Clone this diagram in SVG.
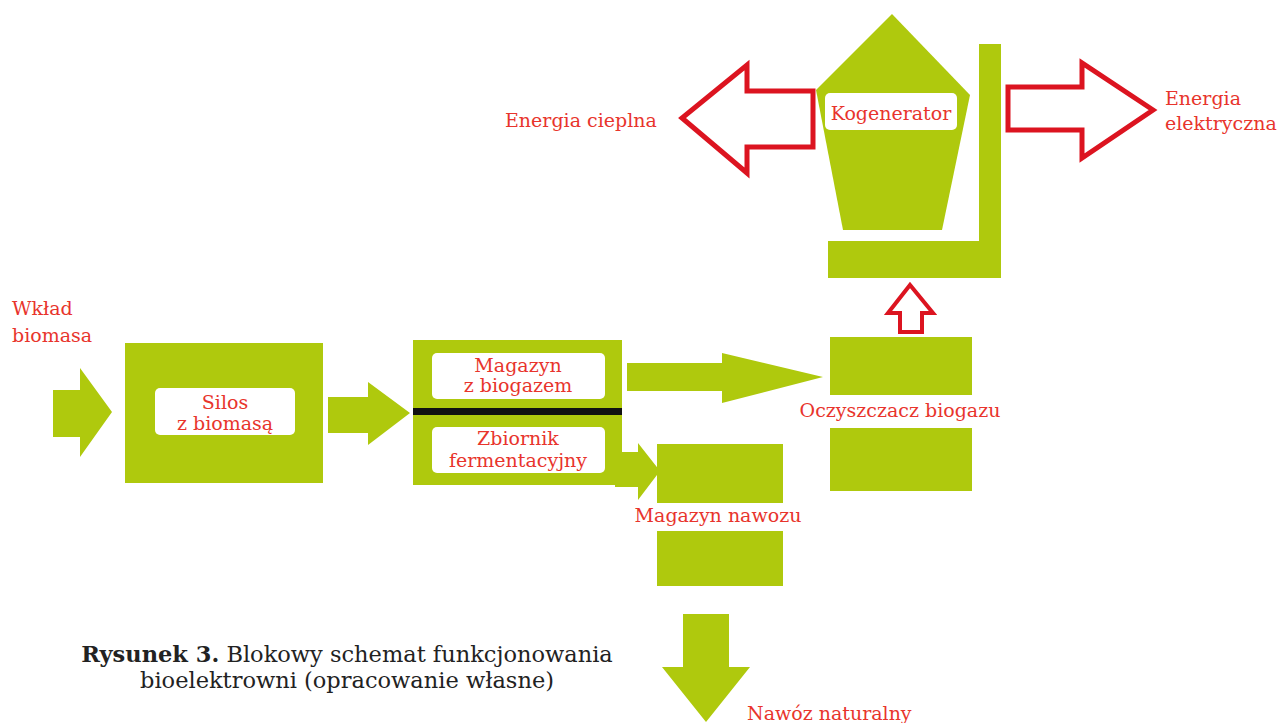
<svg xmlns="http://www.w3.org/2000/svg" width="1279" height="723" viewBox="0 0 1279 723">
<style>
.g{fill:#afc90d}
.w{fill:#ffffff}
.lbl{font-family:"DejaVu Serif","Liberation Serif",serif;font-size:19px;fill:#e8342c}
.mid{text-anchor:middle}
.out{fill:#ffffff;stroke:#dc1420;stroke-width:5;stroke-linejoin:miter}
.cap{font-family:"DejaVu Serif","Liberation Serif",serif;font-size:22.5px;fill:#222222}
</style>
<rect width="1279" height="723" fill="#ffffff"/>
<g id="connectors">
  <polygon class="g" points="53,390 80,390 80,368 112,412 80,457 80,437 53,437"/>
  <polygon class="g" points="328,397 368,397 368,382 410,413 368,445 368,433 328,433"/>
  <polygon class="g" points="627,363 722,363 722,353 823,377 722,403 722,391 627,391"/>
  <polygon class="g" points="615,452 638,452 638,443 660,471 638,500 638,487 615,487"/>
  <polygon class="g" points="683,614 729,614 729,667 750,667 706,722 662,667 683,667"/>
  <polygon class="out" points="813,91 813,147 747,147 747,173 682,118 747,65 747,91"/>
  <polygon class="out" points="1008,87 1082,87 1082,63 1153,110 1082,158 1082,130 1008,130"/>
  <polygon class="out" style="stroke-width:4" points="900,332 922,332 922,313 933,313 910,285 888,313 900,313"/>
</g>
<g id="wklad">
  <text class="lbl" x="12" y="315">Wkład</text>
  <text class="lbl" x="12" y="342">biomasa</text>
</g>
<g id="silos">
  <rect class="g" x="125" y="343" width="198" height="140"/>
  <rect class="w" x="155" y="388" width="140" height="47" rx="5"/>
  <text class="lbl mid" x="225" y="409">Silos</text>
  <text class="lbl mid" x="225" y="430">z biomasą</text>
</g>
<g id="magazyn-zbiornik">
  <rect class="g" x="413" y="340" width="209" height="145"/>
  <rect x="413" y="408" width="209" height="7" fill="#111111"/>
  <rect class="w" x="432" y="353" width="173" height="46" rx="5"/>
  <text class="lbl mid" x="518" y="372">Magazyn</text>
  <text class="lbl mid" x="518" y="392">z biogazem</text>
  <rect class="w" x="432" y="427" width="173" height="46" rx="5"/>
  <text class="lbl mid" x="518" y="445">Zbiornik</text>
  <text class="lbl mid" x="518" y="467">fermentacyjny</text>
</g>
<g id="magazyn-nawozu">
  <rect class="g" x="657" y="444" width="126" height="59"/>
  <text class="lbl mid" x="718" y="522">Magazyn nawozu</text>
  <rect class="g" x="657" y="531" width="126" height="55"/>
</g>
<g id="nawoz">
  <text class="lbl" x="747" y="720">Nawóz naturalny</text>
</g>
<g id="oczyszczacz">
  <rect class="g" x="830" y="337" width="142" height="58"/>
  <text class="lbl mid" x="900" y="417">Oczyszczacz biogazu</text>
  <rect class="g" x="830" y="428" width="142" height="63"/>
</g>
<g id="kogenerator">
  <polygon class="g" points="892,14 970,95 942,230 843,230 816,90"/>
  <rect class="w" x="825" y="93" width="132" height="37" rx="5"/>
  <text class="lbl mid" x="891" y="120">Kogenerator</text>
  <polygon class="g" points="979,44 1001,44 1001,278 828,278 828,241 979,241"/>
</g>
<g id="energia-cieplna">
  <text class="lbl" x="505" y="127">Energia cieplna</text>
</g>
<g id="energia-elektryczna">
  <text class="lbl" x="1165" y="105">Energia</text>
  <text class="lbl" x="1165" y="130">elektryczna</text>
</g>
<g id="caption">
  <text class="cap" x="347" y="662" text-anchor="middle"><tspan font-weight="bold">Rysunek 3.</tspan> Blokowy schemat funkcjonowania</text>
  <text class="cap" x="347" y="688" text-anchor="middle">bioelektrowni (opracowanie własne)</text>
</g>
</svg>
